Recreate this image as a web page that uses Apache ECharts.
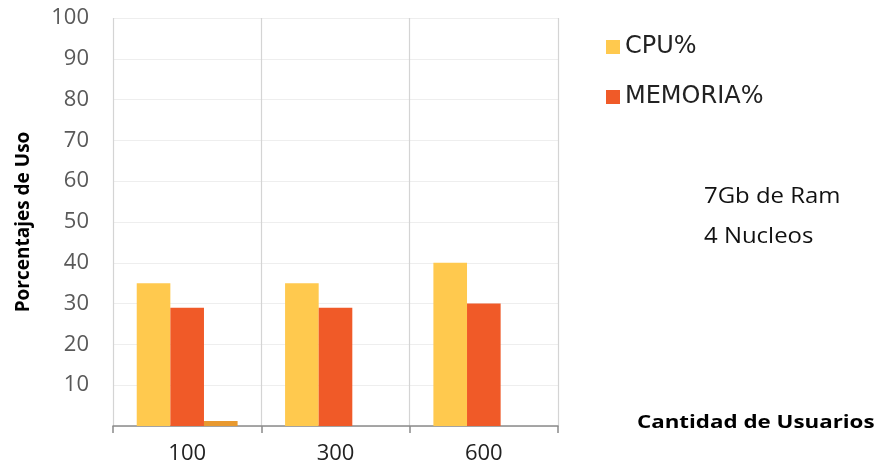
<!DOCTYPE html>
<html><head><meta charset="utf-8">
<script src="https://cdn.jsdelivr.net/npm/echarts@6/dist/echarts.min.js"></script>
<style>html,body{margin:0;padding:0;background:#fff}#c{width:882px;height:470px}</style>
</head><body><div id="c"></div>
<script>
const categories = ['100', '300', '600'];
const cpu = [35, 35, 40];
const memoria = [29, 29, 30];
const otro = [1.2, null, null];
const yTicks = [0, 10, 20, 30, 40, 50, 60, 70, 80, 90, 100];

const chart = echarts.init(document.getElementById('c'));
chart.setOption({
  animation: false,
  backgroundColor: '#fff',
  grid: { left: 113, right: 324, top: 18, bottom: 44 },
  legend: {
    data: ['CPU%', 'MEMORIA%'],
    orient: 'vertical', left: 601, top: 30,
    itemWidth: 14, itemHeight: 14, itemGap: 26, icon: 'rect',
    textStyle: { fontFamily: 'DejaVu Sans', fontSize: 24, color: '#222', fontWeight: 'normal' }
  },
  xAxis: {
    type: 'category', data: categories,
    axisLine: { lineStyle: { color: '#8a8a8a', width: 1.5 } },
    axisTick: { show: true, length: 7, lineStyle: { color: '#8a8a8a', width: 1.5 } },
    axisLabel: { color: '#222', fontSize: 22, fontFamily: 'Open Sans', margin: 17 },
    splitLine: { show: true, lineStyle: { color: '#d4d4d4', width: 1.2 } }
  },
  yAxis: {
    type: 'value', min: yTicks[0], max: yTicks[yTicks.length - 1], interval: 10,
    name: 'Porcentajes de Uso', nameLocation: 'middle', nameRotate: 90, nameGap: 80,
    nameTextStyle: { fontFamily: 'Open Sans', fontWeight: 'bold', fontSize: 19, color: '#000' },
    axisLine: { show: false }, axisTick: { show: false },
    axisLabel: { color: '#595959', fontSize: 22, fontFamily: 'Open Sans', margin: 24, showMinLabel: false,
      formatter: v => v === 0 ? '' : v },
    splitLine: { lineStyle: { color: '#eeeeee', width: 1 } }
  },
  series: [
    { name: 'CPU%', type: 'bar', data: cpu, barGap: '0%', barCategoryGap: '32%', itemStyle: { color: '#FFC94E' } },
    { name: 'MEMORIA%', type: 'bar', data: memoria, itemStyle: { color: '#F05A28' } },
    { name: 'Otro', type: 'bar', data: otro, itemStyle: { color: '#E8992F' } }
  ],
  graphic: [
    { type: 'text', x: 704, y: 197, scaleX: 1.14, style: { text: '7Gb de Ram', fontFamily: 'Open Sans', fontSize: 21, fill: '#111', verticalAlign: 'middle' } },
    { type: 'text', x: 704, y: 237, scaleX: 1.14, style: { text: '4 Nucleos', fontFamily: 'Open Sans', fontSize: 21, fill: '#111', verticalAlign: 'middle' } },
    { type: 'text', x: 637, y: 423, scaleX: 1.24, style: { text: 'Cantidad de Usuarios', fontFamily: 'Open Sans', fontWeight: 'bold', fontSize: 18, fill: '#000', verticalAlign: 'middle' } }
  ]
});
</script></body></html>
